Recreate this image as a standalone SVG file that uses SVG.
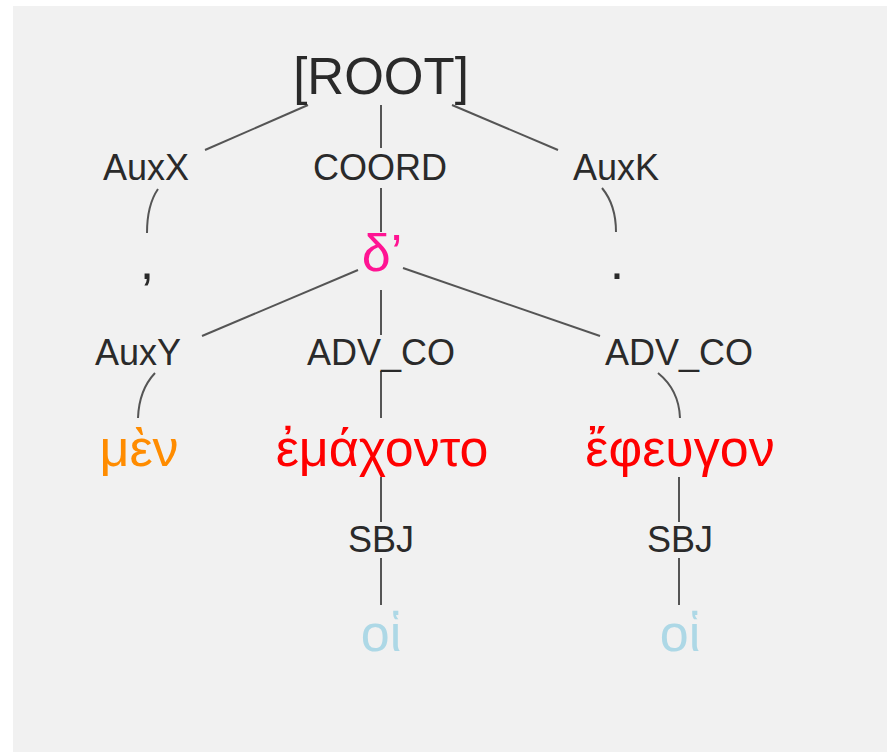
<svg xmlns="http://www.w3.org/2000/svg" width="887" height="752" viewBox="0 0 887 752">
<style>
  text { font-family: "Liberation Sans", Arial, sans-serif; text-anchor: middle; }
  .lbl { font-size: 36px; fill: #2a2a2a; }
  .word { font-size: 52px; }
  .root { font-size: 51px; fill: #2a2a2a; }
  .edge { stroke: #555; stroke-width: 2; fill: none; }
</style>
<rect x="0" y="0" width="887" height="752" fill="#ffffff"/>
<rect x="13" y="6" width="874" height="746" fill="#f1f1f1"/>
<g id="connectors">
  <line class="edge" x1="308" y1="105" x2="205" y2="150"/>
  <line class="edge" x1="381" y1="105" x2="381" y2="148"/>
  <line class="edge" x1="452" y1="105" x2="558" y2="150"/>
  <path class="edge" d="M158,189 Q147,205 147,233"/>
  <line class="edge" x1="381" y1="188" x2="381" y2="232"/>
  <path class="edge" d="M602,188 Q616,205 616,232"/>
  <line class="edge" x1="358" y1="270" x2="202" y2="336"/>
  <line class="edge" x1="381" y1="290" x2="381" y2="335"/>
  <line class="edge" x1="403" y1="268" x2="600" y2="336"/>
  <path class="edge" d="M155,373 Q139,390 138,418"/>
  <line class="edge" x1="381" y1="371" x2="381" y2="418"/>
  <path class="edge" d="M658,373 Q679,390 680,418"/>
  <line class="edge" x1="381" y1="477" x2="381" y2="522"/>
  <line class="edge" x1="381" y1="558" x2="381" y2="605"/>
  <line class="edge" x1="679" y1="477" x2="679" y2="522"/>
  <line class="edge" x1="679" y1="558" x2="679" y2="605"/>
</g>
<g id="node-root"><text class="root" x="381" y="94">[ROOT]</text></g>
<g id="label-auxx"><text class="lbl" x="146" y="180">AuxX</text></g>
<g id="label-coord"><text class="lbl" x="380" y="180">COORD</text></g>
<g id="label-auxk"><text class="lbl" x="616" y="180">AuxK</text></g>
<g id="node-comma"><text class="word" x="147" y="279" fill="#2a2a2a">,</text></g>
<g id="node-de"><text class="word" x="382" y="271" fill="#ff1493">δ’</text></g>
<g id="node-period"><text class="word" x="617" y="279" fill="#2a2a2a">.</text></g>
<g id="label-auxy"><text class="lbl" x="138" y="365">AuxY</text></g>
<g id="label-advco-1"><text class="lbl" x="381" y="365">ADV_CO</text></g>
<g id="label-advco-2"><text class="lbl" x="679" y="365">ADV_CO</text></g>
<g id="node-men"><text class="word" x="139" y="466" fill="#ff8c00">μὲν</text></g>
<g id="node-emachonto"><text class="word" x="382" y="466" fill="#ff0000">ἐμάχοντο</text></g>
<g id="node-epheugon"><text class="word" x="680" y="466" fill="#ff0000">ἔφευγον</text></g>
<g id="label-sbj-1"><text class="lbl" x="381" y="552">SBJ</text></g>
<g id="label-sbj-2"><text class="lbl" x="680" y="552">SBJ</text></g>
<g id="node-hoi-1"><text class="word" x="381" y="651" fill="#add8e6">οἱ</text></g>
<g id="node-hoi-2"><text class="word" x="680" y="651" fill="#add8e6">οἱ</text></g>
</svg>
